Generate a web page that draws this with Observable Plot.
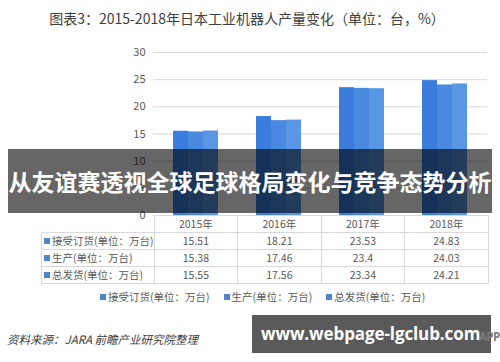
<!DOCTYPE html>
<html>
<head>
<meta charset="utf-8">
<script src="https://cdn.jsdelivr.net/npm/d3@7"></script>
<script src="https://cdn.jsdelivr.net/npm/@observablehq/plot@0.6"></script>
<style>
  html, body { margin: 0; padding: 0; background: #fff; }
  #wrap { position: relative; width: 500px; height: 362px; overflow: hidden; background: #fff;
    font-family: "Noto Sans CJK SC", "Noto Sans", sans-serif; }
  .abs { position: absolute; }
  #title { top: 8px; left: 0; width: 494px; text-align: center; font-size: 14px; line-height: 20px; color: #404040; }
  #tbl { top: 215px; left: 41px; border-collapse: collapse; table-layout: fixed; font-size: 10.5px; color: #595959; }
  #tbl td { border: 1px solid #d9d9d9; height: 16px; padding: 0; text-align: center; line-height: 16px; white-space: nowrap; }
  #tbl td.lab { text-align: left; padding-left: 2px; }
  #tbl td.blank { border: none; }
  #legend { top: 289px; left: 100px; display: flex; gap: 14px; font-size: 10.5px; color: #595959; line-height: 16px; white-space: nowrap; }
  .sq { display: inline-block; width: 6px; height: 6px; margin-right: 2px; vertical-align: 1px; }
  #source { top: 330px; left: 7px; font-size: 11.5px; font-style: italic; color: #404040; line-height: 18px; }
  #app { top: 328px; left: 479px; font-size: 11.5px; color: #7a7a7a; font-weight: bold; line-height: 18px;
    font-family: "Open Sans", sans-serif; letter-spacing: -0.6px; }
  #band { top: 149px; left: 8px; width: 484px; height: 64px; background: rgba(0,0,0,0.6); color: #fff;
    font-size: 23px; font-weight: bold; line-height: 64px; text-align: center; white-space: nowrap; }
  #site { top: 315px; left: 252px; width: 239px; height: 38px; background: #5a5a5a; }
  #sitetext { top: 315px; left: 261px; height: 38px; color: #fff; white-space: nowrap;
    font-family: "Open Sans", sans-serif; font-weight: bold; font-size: 17px; line-height: 38px; letter-spacing: -0.1px; }
</style>
</head>
<body>
<div id="wrap">
  <div id="title" class="abs"></div>
  <div id="gridplot" class="abs" style="top:40px;left:0"></div>
  <div id="barplot" class="abs" style="top:40px;left:0"></div>
  <table id="tbl" class="abs"></table>
  <div id="legend" class="abs"></div>
  <div id="source" class="abs"></div>
  <div id="band" class="abs"></div>
  <div id="site" class="abs"></div>
  <div id="sitetext" class="abs"></div>
  <div id="app" class="abs"></div>
</div>
<script>
const titleText = "图表3：2015-2018年日本工业机器人产量变化（单位：台，%）";
const years = ["2015年", "2016年", "2017年", "2018年"];
const seriesNames = ["接受订货(单位：万台)", "生产(单位：万台)", "总发货(单位：万台)"];
const orders = [15.51, 18.21, 23.53, 24.83];
const production = [15.38, 17.46, 23.4, 24.03];
const shipments = [15.55, 17.56, 23.34, 24.21];
const seriesColors = ["#3b7ddd", "#4a89e0", "#5996e3"];
const legendColor = "#4f86c8";
const yTicks = [0, 5, 10, 15, 20, 25, 30];
const sourceText = "资料来源：JARA 前瞻产业研究院整理";
const bandText = "从友谊赛透视全球足球格局变化与竞争态势分析";
const siteText = "www.webpage-lgclub.com";
const appText = "APP";

const seriesValues = [orders, production, shipments];
const rows = [];
years.forEach((yr, i) => seriesNames.forEach((s, j) => rows.push({year: yr, series: s, value: seriesValues[j][i]})));

const common = {
  width: 500, height: 190, marginLeft: 153, marginRight: 13, marginTop: 12, marginBottom: 15,
  style: {background: "transparent", fontFamily: "'Noto Sans CJK SC', sans-serif", fontSize: "11px", color: "#595959"}
};

const gridPlot = Plot.plot({
  ...common,
  x: {axis: null, domain: [0, 1]},
  y: {domain: [0, 30], ticks: yTicks.length - 1, tickSize: 0, tickPadding: 8, label: null},
  marks: [Plot.ruleY(yTicks, {stroke: "#d9d9d9", strokeWidth: 1})]
});
document.getElementById("gridplot").appendChild(gridPlot);

const barPlot = Plot.plot({
  ...common,
  facet: {data: rows, x: "year"},
  fx: {domain: years, paddingInner: 0.44, paddingOuter: 0.22, axis: null, label: null},
  x: {domain: seriesNames, padding: 0, axis: null},
  y: {domain: [0, 30], axis: null},
  color: {domain: seriesNames, range: seriesColors},
  marks: [Plot.barY(rows, {x: "series", y: "value", fill: "series"})]
});
document.getElementById("barplot").appendChild(barPlot);

document.getElementById("title").textContent = titleText;

// data table
const tbl = document.getElementById("tbl");
const cg = document.createElement("colgroup");
[112, 83.5, 83.5, 83.5, 83.5].forEach(w => { const c = document.createElement("col"); c.style.width = w + "px"; cg.appendChild(c); });
tbl.appendChild(cg);
const hr = document.createElement("tr");
const blank = document.createElement("td"); blank.className = "blank"; hr.appendChild(blank);
years.forEach(y => { const td = document.createElement("td"); td.textContent = y; hr.appendChild(td); });
tbl.appendChild(hr);
seriesNames.forEach((s, j) => {
  const tr = document.createElement("tr");
  const lab = document.createElement("td"); lab.className = "lab";
  const sq = document.createElement("span"); sq.className = "sq"; sq.style.background = legendColor;
  lab.appendChild(sq); lab.appendChild(document.createTextNode(s)); tr.appendChild(lab);
  seriesValues[j].forEach(v => { const td = document.createElement("td"); td.textContent = String(v); tr.appendChild(td); });
  tbl.appendChild(tr);
});

// legend
const lg = document.getElementById("legend");
seriesNames.forEach((s, j) => {
  const it = document.createElement("span");
  const sq = document.createElement("span"); sq.className = "sq"; sq.style.background = legendColor;
  it.appendChild(sq); it.appendChild(document.createTextNode(s)); lg.appendChild(it);
});

document.getElementById("source").textContent = sourceText;
document.getElementById("app").textContent = appText;
document.getElementById("band").textContent = bandText;
document.getElementById("sitetext").textContent = siteText;
</script>
</body>
</html>
